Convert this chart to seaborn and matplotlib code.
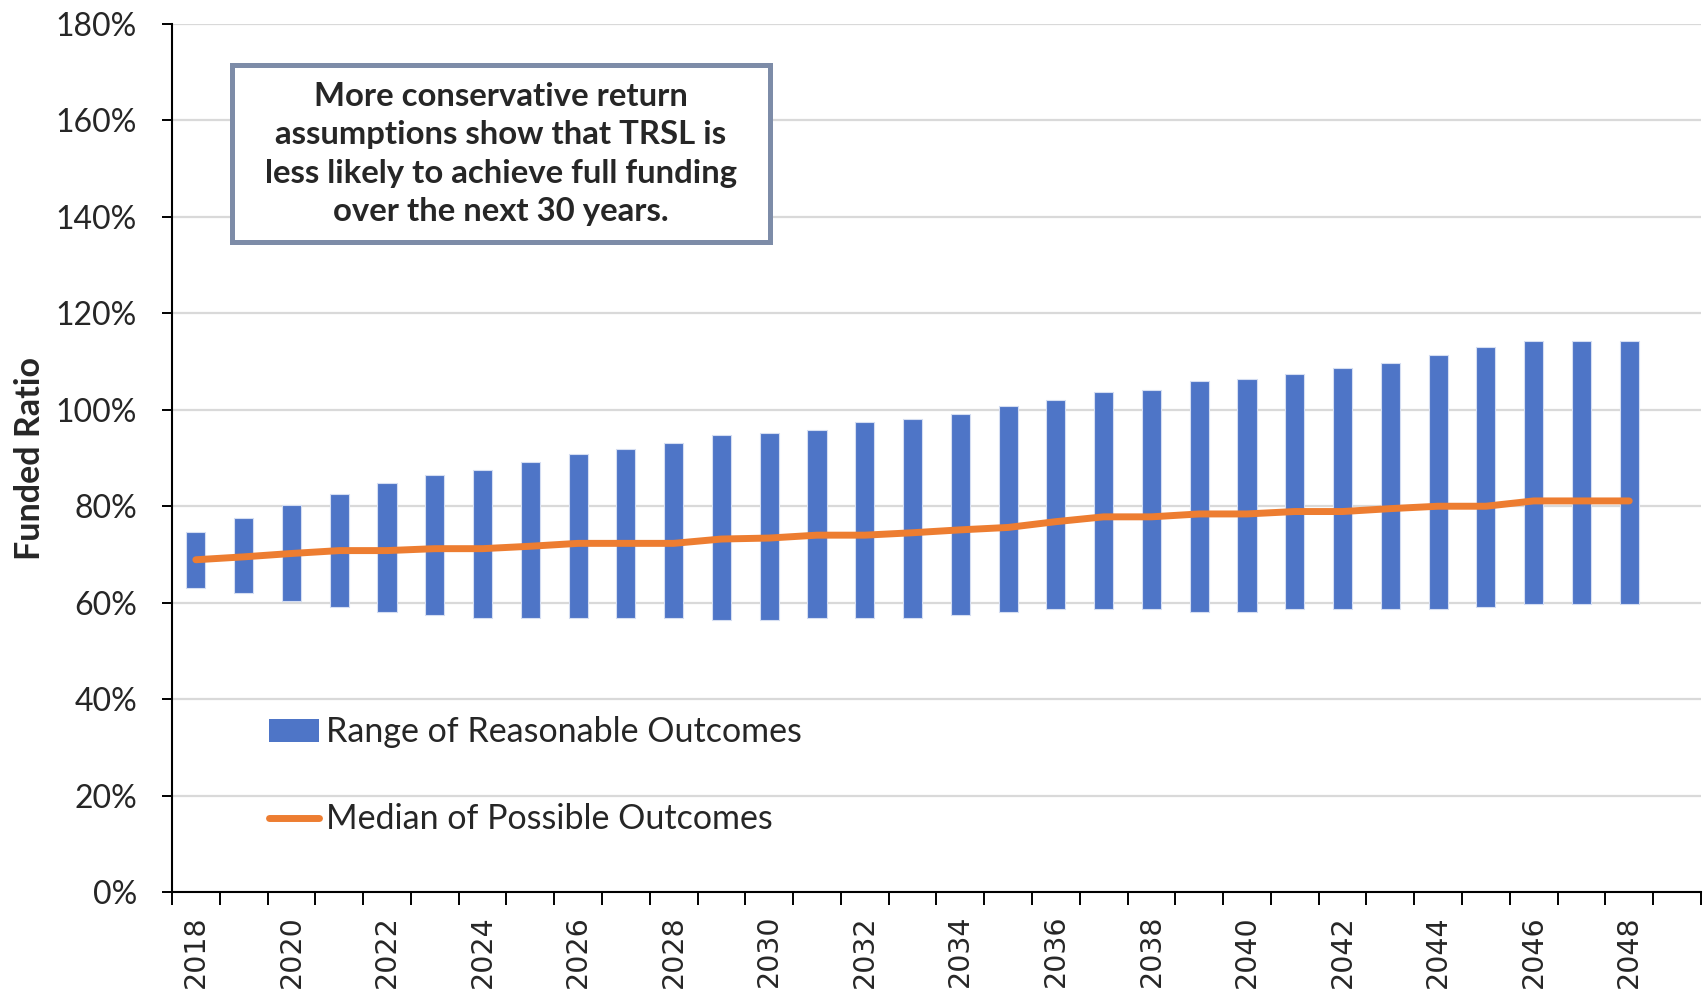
import numpy as np
import pandas as pd
import matplotlib
matplotlib.use("Agg")
import matplotlib.pyplot as plt
from matplotlib.patches import Patch, Rectangle
from matplotlib.lines import Line2D
import seaborn as sns

# Projected funded ratio, 2018-2048 (percent)
years = list(range(2018, 2049))
range_low = [63.1, 62.0, 60.3, 59.2, 58.0, 57.5, 56.9, 56.9, 56.9, 56.9, 56.9, 56.4,
             56.4, 56.9, 56.9, 56.9, 57.5, 58.0, 58.6, 58.6, 58.6, 58.0, 58.0,
             58.6, 58.6, 58.6, 58.6, 59.2, 59.7, 59.7, 59.7]
range_high = [74.7, 77.5, 80.2, 82.5, 84.8, 86.5, 87.5, 89.2, 90.9, 91.9, 93.1, 94.8,
              95.2, 95.8, 97.5, 98.0, 99.2, 100.8, 102.0, 103.6, 104.2, 105.9, 106.4,
              107.5, 108.7, 109.8, 111.4, 113.1, 114.2, 114.2, 114.2]
median = [68.9, 69.5, 70.2, 70.8, 70.8, 71.2, 71.2, 71.7, 72.3, 72.3, 72.3, 73.2,
          73.4, 74.0, 74.0, 74.5, 75.1, 75.6, 76.8, 77.8, 77.8, 78.4, 78.4,
          78.9, 78.9, 79.5, 80.0, 80.0, 81.1, 81.1, 81.1]
y_ticks = list(range(0, 181, 20))
series_labels = ["Range of Reasonable Outcomes", "Median of Possible Outcomes"]
note = ("More conservative return\nassumptions show that TRSL is\n"
        "less likely to achieve full funding\nover the next 30 years.")

BLUE = "#4E75C7"
ORANGE = "#ED7D31"

df = pd.DataFrame({"year": [str(y) for y in years],
                   "low": range_low, "high": range_high, "median": median})
df["span"] = df["high"] - df["low"]

sns.set_style("white")
plt.rcParams["font.family"] = ["Lato", "DejaVu Sans"]

fig = plt.figure(figsize=(17.06, 9.92), dpi=100)
ax = fig.add_axes([0.1008, 0.1008, 0.8962, 0.875])

# Floating bars: each bar spans from the low to the high outcome
sns.barplot(data=df, x="year", y="span", bottom=df["low"].to_numpy(),
            color=BLUE, saturation=1, width=0.4, errorbar=None,
            edgecolor="#d5def2", linewidth=0.8, ax=ax, zorder=2)

sns.lineplot(x=np.arange(len(df)), y=df["median"].to_numpy(), color=ORANGE,
             linewidth=5, ax=ax, zorder=3, legend=False,
             solid_capstyle="round", solid_joinstyle="round")

ax.set_ylim(0, 180)
ax.set_xlim(-0.5, len(years) + 0.5)
ax.set_yticks(y_ticks)
ax.set_yticklabels([f"{v}%" for v in y_ticks])
ax.grid(axis="y", color="#d9d9d9", linewidth=1.6)
ax.grid(axis="x", visible=False)
ax.set_axisbelow(True)

# Tick marks sit between categories; year labels every second year
ax.set_xticks(np.arange(-0.5, len(years) + 1, 1))
ax.set_xticklabels([])
label_pos = np.arange(0, len(years), 2)
ax.set_xticks(label_pos, minor=True)
ax.set_xticklabels([str(years[i]) for i in label_pos], minor=True,
                   rotation=90, family="DejaVu Sans", fontsize=20.5,
                   va="top", ha="center")
ax.tick_params(axis="x", which="major", direction="out", length=9.5, width=1.4,
               color="black", bottom=True)
ax.tick_params(axis="x", which="minor", length=0, pad=16.5)
ax.tick_params(axis="y", direction="out", length=7.2, width=1.4, color="black",
               left=True, pad=18, labelsize=23)

for side in ("top", "right"):
    ax.spines[side].set_visible(False)
for side in ("left", "bottom"):
    ax.spines[side].set_color("black")
    ax.spines[side].set_linewidth(1.5)

ax.set_xlabel("")
ax.set_ylabel("Funded Ratio", fontsize=24.5, fontweight="bold")
ax.yaxis.set_label_coords(-0.093, 0.5)
ax.yaxis.label.set_va("center")

handles = [Patch(facecolor=BLUE, edgecolor="none"),
           Line2D([0], [0], color=ORANGE, linewidth=5, solid_capstyle="round")]
ax.legend(handles, series_labels, loc="center left",
          bbox_to_anchor=(0.0634, 0.134), frameon=False, fontsize=24.5,
          borderpad=0, borderaxespad=0, handlelength=1.47, handleheight=0.65,
          handletextpad=0.2, labelspacing=1.62)

# Callout box
fig.patches.append(Rectangle((232 / 1706, 1 - 242 / 992), 538 / 1706, 177 / 992,
                             transform=fig.transFigure, facecolor="white",
                             edgecolor="#7d8ca8", linewidth=3.6, zorder=5))
fig.text(501 / 1706, 1 - 154 / 992, note, ha="center", va="center",
         fontsize=23.7, fontweight="bold", linespacing=1.40, zorder=6)

fig.savefig("out.png", dpi=100)
